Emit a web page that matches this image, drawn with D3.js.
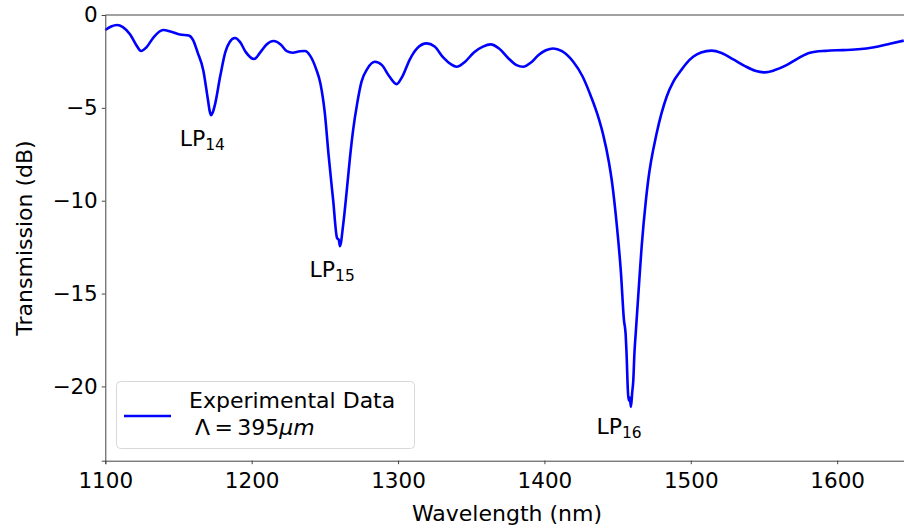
<!DOCTYPE html>
<html>
<head>
<meta charset="utf-8">
<script src="https://cdn.jsdelivr.net/npm/d3@7"></script>
<style>
  body { margin: 0; background: #fff; }
  svg { display: block; font-family: "DejaVu Sans", sans-serif; }
</style>
</head>
<body>
<svg id="chart" width="904" height="528"></svg>
<script>
// wavelength (nm)
var wavelength = [1100, 1104, 1108, 1112, 1117, 1121, 1124.5, 1128, 1133, 1139.5, 1145, 1151, 1157, 1160, 1163, 1167, 1170, 1171.4, 1172.3, 1173.4, 1175, 1178.5,
  1182, 1185, 1188.6, 1192, 1196, 1201.6, 1206, 1210, 1215, 1220, 1224, 1228, 1233, 1236.4, 1240, 1244, 1247, 1250, 1252.5, 1255.7,
  1258.3, 1259.5, 1260.3, 1262.5, 1264.9, 1267, 1269.3, 1272, 1275, 1279, 1284.2, 1289, 1294, 1299, 1303, 1308, 1313, 1319.5, 1325, 1331,
  1336, 1340, 1346, 1352, 1358, 1363.2, 1369, 1375, 1381, 1385.5, 1391, 1396, 1401, 1406, 1412, 1419.7, 1426, 1431, 1436, 1440,
  1444, 1446, 1449.3, 1452.3, 1454.3, 1455.5, 1456.1, 1457, 1457.5, 1458.3, 1459.1, 1460, 1460.7, 1461.5, 1462.5, 1464.8, 1466.4, 1469.3, 1470.9, 1476.6,
  1483.5, 1488, 1492.6, 1497, 1501.6, 1507, 1514.2, 1521, 1529, 1537, 1544, 1550.6, 1557, 1565.4, 1573, 1581.4, 1592, 1604, 1612, 1620,
  1628, 1636, 1645.5];
// transmission (dB)
var transmission = [-0.81, -0.62, -0.54, -0.65, -1.05, -1.6, -1.94, -1.75, -1.2, -0.81, -0.9, -1.05, -1.1, -1.35, -2.0, -3.0, -4.5, -5.2, -5.39, -5.25, -4.8, -3.3,
  -2.0, -1.45, -1.24, -1.45, -2.0, -2.37, -2.0, -1.6, -1.4, -1.6, -1.95, -2.03, -1.95, -1.94, -2.2, -2.9, -3.7, -5.3, -7.5, -10,
  -12, -12.1, -12.45, -11.3, -9.5, -7.8, -6.2, -4.8, -3.6, -2.9, -2.52, -2.7, -3.3, -3.72, -3.3, -2.4, -1.8, -1.53, -1.7, -2.3,
  -2.65, -2.79, -2.5, -2.0, -1.7, -1.58, -1.8, -2.3, -2.7, -2.79, -2.55, -2.15, -1.9, -1.8, -1.95, -2.52, -3.3, -4.22, -5.3, -6.4,
  -7.9, -8.9, -11.2, -13.9, -16.4, -17.2, -18.2, -20.2, -20.75, -20.6, -21.1, -20.3, -19.7, -18.2, -17, -14.3, -12.5, -10, -8.9, -6.4,
  -4.4, -3.6, -3.06, -2.6, -2.25, -2.02, -1.92, -2.05, -2.39, -2.75, -3.0, -3.09, -2.98, -2.7, -2.35, -2.03, -1.93, -1.89, -1.86, -1.8,
  -1.7, -1.55, -1.38];

var xTicks = [1100, 1200, 1300, 1400, 1500, 1600];
var yTicks = [0, -5, -10, -15, -20];

// mode labels: name, subscript, where the label sits (data coords)
var modeNames = ['LP', 'LP', 'LP'];
var modeSubs = ['14', '15', '16'];
var modeX = [1150.8, 1239.5, 1435.5];
var modeY = [-7.05, -14.1, -22.55];

var svg = d3.select('#chart');
var padL = 105.3, padT = 15, padB = 460.7;

var x = d3.scaleLinear().domain([1100, 1646]).range([padL, 904.5]);
var y = d3.scaleLinear().domain([-24, 0]).range([padB, padT]);

//the curve
var line = d3.line()
  .x(function (d, i) { return x(wavelength[i]); })
  .y(function (d, i) { return y(transmission[i]); })
  .curve(d3.curveMonotoneX);

svg.append('path')
  .datum(transmission)
  .attr('d', line)
  .attr('fill', 'none')
  .attr('stroke', '#0000ff')
  .attr('stroke-width', 2.6)
  .attr('stroke-linejoin', 'round');

//axes
var xAxis = d3.axisBottom(x).tickValues(xTicks).tickSize(3.5).tickPadding(4).tickFormat(d3.format('d'));
var yAxis = d3.axisLeft(y).tickValues(yTicks).tickSize(3.5).tickPadding(4)
  .tickFormat(function (d) { return d < 0 ? '\u2212' + Math.abs(d) : d; });

var gx = svg.append('g').attr('transform', 'translate(0,' + padB + ')').call(xAxis);
var gy = svg.append('g').attr('transform', 'translate(' + padL + ',0)').call(yAxis);
[gx, gy].forEach(function (g) {
  g.selectAll('path').attr('stroke', '#444').attr('stroke-width', 1);
  g.selectAll('line').attr('stroke', '#444');
  g.selectAll('text').attr('font-family', 'DejaVu Sans').attr('font-size', 21.5).attr('fill', '#000');
});
gx.selectAll('text').attr('dy', '0.9em');

// top spine
svg.append('line').attr('x1', padL).attr('x2', 904).attr('y1', padT).attr('y2', padT)
  .attr('stroke', '#444').attr('stroke-width', 1);

//axis titles
svg.append('text').attr('x', 507).attr('y', 520.5).attr('text-anchor', 'middle')
  .attr('font-size', 22).text('Wavelength (nm)');
svg.append('text').attr('transform', 'translate(31.5,238) rotate(-90)').attr('text-anchor', 'middle')
  .attr('font-size', 22).text('Transmission (dB)');

//mode labels
modeNames.forEach(function (n, i) {
  var t = svg.append('text').attr('x', x(modeX[i])).attr('y', y(modeY[i])).attr('font-size', 22);
  t.append('tspan').text(n);
  t.append('tspan').attr('font-size', 15.5).attr('dy', 4).text(modeSubs[i]);
});

//legend
var lg = svg.append('g');
lg.append('rect').attr('x', 116.5).attr('y', 381.5).attr('width', 298).attr('height', 67).attr('rx', 4)
  .attr('fill', '#fff').attr('fill-opacity', 0.8).attr('stroke', '#d8d8d8').attr('stroke-width', 1);
lg.append('line').attr('x1', 124).attr('x2', 171).attr('y1', 416).attr('y2', 416)
  .attr('stroke', '#0000ff').attr('stroke-width', 2.6);
lg.append('text').attr('x', 189).attr('y', 408).attr('font-size', 22).text('Experimental Data');
var lt = lg.append('text').attr('x', 195).attr('y', 434.5).attr('font-size', 22);
lt.append('tspan').text('\u039B\u2009=\u2009395');
lt.append('tspan').attr('font-style', 'italic').text('\u03BCm');
</script>
</body>
</html>
